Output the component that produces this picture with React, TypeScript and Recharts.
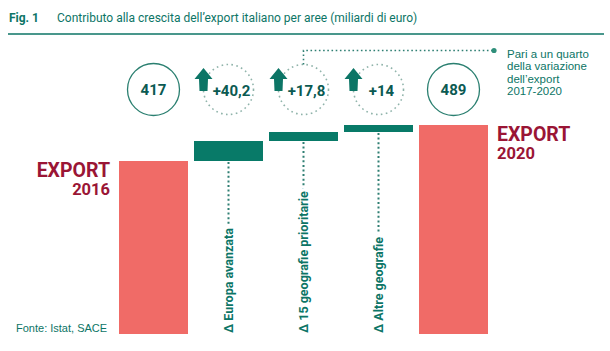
import React from 'react';
import { ComposedChart, Bar, XAxis, YAxis, Cell, LabelList } from 'recharts';

const categories = ['Export 2016', 'Europa avanzata', '15 geografie prioritarie', 'Altre geografie', 'Export 2020'];
const totals: (number | null)[] = [417, null, null, null, 489];
const deltas: (number | null)[] = [null, 40.2, 17.8, 14, null];
const axisLabels = ['', 'Δ Europa avanzata', 'Δ 15 geografie prioritarie', 'Δ Altre geografie', ''];
const noteLines = ['Pari a un quarto', 'della variazione', 'dell’export', '2017-2020'];

// waterfall: totals start from the axis floor, deltas float on the running sum
let run = 0;
const data = categories.map((name, i) => {
  const t = totals[i];
  if (t != null) {
    run = t;
    return { name, total: t, delta: null as number | null, value: t as number | number[] };
  }
  const start = run;
  run = start + (deltas[i] as number);
  return { name, total: null as number | null, delta: deltas[i], value: [start, run] as number | number[] };
});

const TEAL = '#0c7566';
const DARK_TEAL = '#0b5a52';
const BAR_GREEN = '#087a68';
const PINK = '#f06b67';
const WINE = '#9a1535';
const FONT = 'Roboto, "Liberation Sans", Arial, sans-serif';
const ARIAL = '"Liberation Sans", Arial, sans-serif';

const fmt = (v: number) => '+' + String(v).replace('.', ',');

const renderMarks = (props: any) => {
  const { x, y, width, height, index } = props;
  const d = data[index];
  if (!d) return null;
  const cx = x + width / 2;
  const top = Math.min(y, y + height);
  const bottom = Math.max(y, y + height);
  const cy = 89.5;

  if (d.total != null) {
    const year = d.name.split(' ')[1];
    const left = index === 0;
    const tx = left ? x - 9 : x + width + 9;
    return (
      <g>
        <circle cx={cx} cy={cy} r={26} fill="none" stroke="#2a7f70" strokeWidth={1.3} />
        <text x={cx} y={cy} textAnchor="middle" dominantBaseline="central" fontFamily={FONT} fontWeight={700} fontSize={15} fill={DARK_TEAL}>
          {d.total}
        </text>
        <text x={tx} y={top + 15.5} textAnchor={left ? 'end' : 'start'} fontFamily={FONT} fontWeight={700} fontSize={19.5} fill={WINE}>
          EXPORT
        </text>
        <text x={tx} y={top + 34} textAnchor={left ? 'end' : 'start'} fontFamily={FONT} fontWeight={700} fontSize={16.5} fill={WINE}>
          {year}
        </text>
      </g>
    );
  }

  const ax = cx - 25;
  const arrow = [
    [ax, 68], [ax + 9, 79], [ax + 4.5, 79], [ax + 4, 91], [ax - 4, 91], [ax - 4.5, 79], [ax - 9, 79],
  ].map((p) => p.join(',')).join(' ');

  return (
    <g>
      <circle cx={cx} cy={cy} r={25} fill="none" stroke="#8fb3aa" strokeWidth={1.6} strokeDasharray="1.6 3.4" />
      <polygon points={arrow} fill={TEAL} />
      <text x={cx + 3} y={cy + 1} textAnchor="middle" dominantBaseline="central" fontFamily={FONT} fontWeight={700} fontSize={15} fill={DARK_TEAL}>
        {fmt(d.delta as number)}
      </text>
      <line x1={cx} y1={bottom + 1} x2={cx} y2={333} stroke="#2f7f73" strokeWidth={2} strokeDasharray="2 2.6" />
      <text
        x={cx}
        y={333}
        transform={`rotate(-90 ${cx} 333)`}
        textAnchor="start"
        dominantBaseline="central"
        fontFamily={FONT}
        fontWeight={700}
        fontSize={12.5}
        fill={TEAL}
        stroke="#ffffff"
        strokeWidth={7}
        paintOrder="stroke"
        strokeLinejoin="round"
      >
        {axisLabels[index]}
      </text>
      {index === 2 && (
        <g>
          <polyline points={`${cx},${cy - 25} ${cx},50.5 494,50.5`} fill="none" stroke="#2f7f73" strokeWidth={1.6} strokeDasharray="1.6 2.6" />
          <circle cx={494} cy={50.5} r={2.6} fill="#2f8f7a" />
        </g>
      )}
    </g>
  );
};

export default function App() {
  return (
    <div style={{ position: 'absolute', left: 0, top: 0, width: 610, height: 351, background: '#fff' }}>
      <ComposedChart
        width={610}
        height={351}
        data={data}
        margin={{ top: 125, right: 119, bottom: 17, left: 116 }}
        barCategoryGap={6}
      >
        <XAxis dataKey="name" hide />
        <YAxis type="number" domain={[71, 489]} allowDataOverflow hide />
        <Bar dataKey="value" barSize={69} isAnimationActive={false}>
          {data.map((d, i) => (
            <Cell key={`c-${i}`} fill={d.total != null ? PINK : BAR_GREEN} />
          ))}
          <LabelList dataKey="name" content={renderMarks} />
        </Bar>
      </ComposedChart>
      <svg width={610} height={351} style={{ position: 'absolute', left: 0, top: 0, pointerEvents: 'none' }}>
        <text x={9} y={22} fontFamily={FONT} fontWeight={700} fontSize={12} fill={TEAL}>
          Fig. 1
        </text>
        <text x={57} y={22} fontFamily={FONT} fontSize={12} fill={TEAL}>
          Contributo alla crescita dell’export italiano per aree (miliardi di euro)
        </text>
        <line x1={8} x2={604} y1={34} y2={34} stroke={TEAL} strokeWidth={1.5} />
        {noteLines.map((t, i) => (
          <text key={t} x={507} y={58 + i * 12.4} fontFamily={ARIAL} fontSize={11.5} fill={TEAL}>
            {t}
          </text>
        ))}
        <text x={16} y={332} fontFamily={ARIAL} fontSize={11} fill={TEAL}>
          Fonte: Istat, SACE
        </text>
      </svg>
    </div>
  );
}
